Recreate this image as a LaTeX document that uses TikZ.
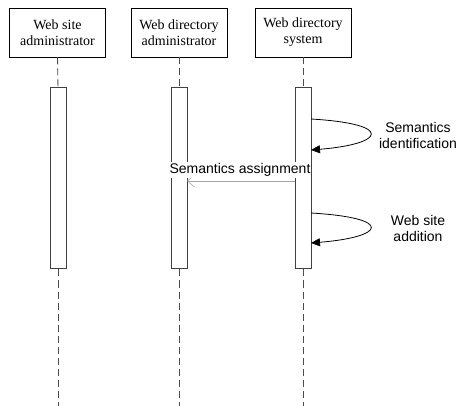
\documentclass[tikz,border=0pt]{standalone}
\usepackage{fontspec}
\setmainfont{Liberation Serif}
\newfontfamily\labelfont{Liberation Sans}
\usetikzlibrary{arrows.meta}
\tikzset{
  head/.style={draw, line width=0.9pt, minimum width=96pt, minimum height=49pt,
    inner sep=0pt, align=center, font=\fontsize{14}{16}\selectfont},
  bar/.style={draw=black!75, line width=1pt, fill=white, minimum width=16pt,
    minimum height=181pt, inner sep=0pt},
  life/.style={dashed, dash pattern=on 7pt off 4pt, draw=black!70, line width=0.9pt},
  msg/.style={font=\labelfont\fontsize{14}{16}\selectfont, align=center},
  self/.style={line width=0.8pt, -{Triangle[length=9pt,width=8pt]}},
  reply/.style={draw=black!35, line width=0.6pt, -{Straight Barb[length=7pt,width=12pt,line width=0.6pt]}}
}
\begin{document}
\begin{tikzpicture}[x=1pt,y=-1pt]
  \useasboundingbox (0,0) rectangle (458,406);
  \node[head] (h1) at (57.5,32.5) {Web site\\administrator};
  \node[head] (h2) at (179,32.5) {Web directory\\administrator};
  \node[head] (h3) at (303,32.5) {Web directory\\system};

  \node[bar] (a1) at (58,178.5) {};
  \node[bar] (a2) at (179,178.5) {};
  \node[bar] (a3) at (303,178.5) {};

  \foreach \i/\x in {1/58,2/179,3/303}
  {
    \coordinate (e\i) at (\x,406);
    \draw[life] (h\i.south) -- (a\i.north);
    \draw[life] (a\i.south) -- (e\i);
  };

  % self messages of the system
  \coordinate (s1) at (311,119);
  \coordinate (t1) at (311,150);
  \coordinate (s2) at (311,213);
  \coordinate (t2) at (311,243);
  \draw[self] (s1) .. controls (395,124) and (385,144) .. (t1);
  \draw[self] (s2) .. controls (395,218) and (385,237) .. (t2);
  \node[msg] (m1) at (418,135) {Semantics\\identification};
  \node[msg] (m2) at (418,228) {Web site\\addition};

  % assignment
  \coordinate (r1) at (295,181);
  \coordinate (r2) at (187,181);
  \draw[reply] (r1) -- (r2);
  \node[msg, fill=white, inner sep=1pt] (m3) at (240,170) {Semantics assignment};
\end{tikzpicture}
\end{document}
